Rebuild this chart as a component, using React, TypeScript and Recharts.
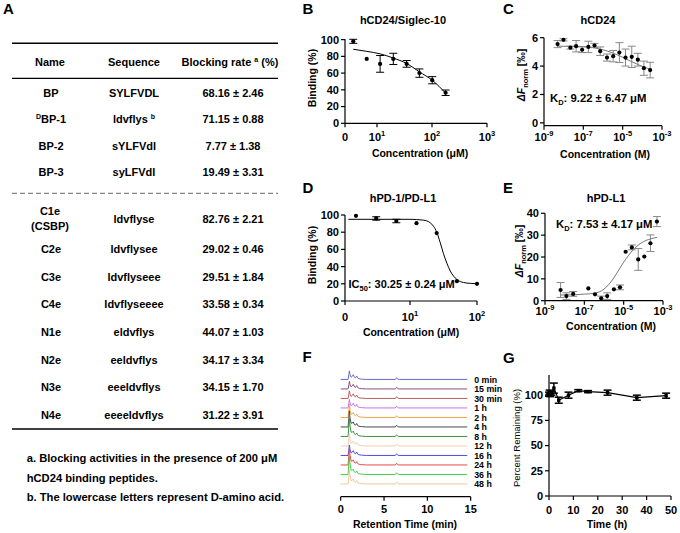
import React from 'react';
import { ComposedChart, LineChart, Line, Scatter, XAxis, YAxis, ErrorBar } from 'recharts';

const FONT = '"Liberation Sans", Arial, Helvetica, sans-serif';

// ---------------- Panel A (table) ----------------
const peptideNames = ['BP', 'BP-1', 'BP-2', 'BP-3', 'C1e', 'C2e', 'C3e', 'C4e', 'N1e', 'N2e', 'N3e', 'N4e'];
const peptideNamePrefixSup = ['', 'D', '', '', '', '', '', '', '', '', '', ''];
const peptideNameSecondLine = ['', '', '', '', '(CSBP)', '', '', '', '', '', '', ''];
const peptideSequences = ['SYLFVDL', 'ldvflys', 'sYLFVdl', 'syLFVdl', 'ldvflyse', 'ldvflysee', 'ldvflyseee', 'ldvflyseeee', 'eldvflys', 'eeldvflys', 'eeeldvflys', 'eeeeldvflys'];
const peptideSequenceSup = ['', 'b', '', '', '', '', '', '', '', '', '', ''];
const blockingRate = [68.16, 71.15, 7.77, 19.49, 82.76, 29.02, 29.51, 33.58, 44.07, 34.17, 34.15, 31.22];
const blockingSd = [2.46, 0.88, 1.38, 3.31, 2.21, 0.46, 1.84, 0.34, 1.03, 3.34, 1.7, 3.91];
const tableFootnotes = [
  'a. Blocking activities in the presence of 200 \u03bcM',
  'hCD24 binding peptides.',
  'b. The lowercase letters represent D-amino acid.',
];

// ---------------- Panel B ----------------
const bConcentration = [3.7, 6.5, 11.4, 19.8, 34.6, 59, 101, 177];
const bBinding = [98, 77, 71, 77, 71, 60, 51.5, 36.5];
const bBindingErr = [2.4, 0, 10, 6.7, 4, 5, 4.3, 3.3];
const bFitConcentration = [3.7, 6.5, 11.4, 19.8, 34.6, 59, 101, 177];
const bFitBinding = [88.5, 86, 83, 78, 71.5, 61.5, 51.5, 36];

// ---------------- Panel C ----------------
const cConcentration = [4.9e-9, 9.8e-9, 2.2e-8, 4.3e-8, 8.7e-8, 1.8e-7, 3.7e-7, 7.2e-7, 1.6e-6, 3.3e-6, 6.8e-6, 1.4e-5, 2.9e-5, 5.9e-5, 1.2e-4, 2.5e-4];
const cSignal = [5.55, 5.85, 5.3, 5.4, 5.15, 5.35, 5.45, 5.05, 4.6, 4.7, 4.95, 4.6, 4.65, 4.45, 3.85, 3.72];
const cSignalErr = [0.25, 0.08, 0.1, 0.4, 0.2, 0.4, 0.15, 0.3, 0.25, 0.4, 0.7, 0.6, 0.75, 0.45, 0.5, 0.55];
const cFitConcentration = [4.9e-9, 1e-7, 3.2e-7, 1e-6, 3.2e-6, 1e-5, 3.2e-5, 1e-4, 2.5e-4];
const cFitSignal = [5.4, 5.38, 5.3, 5.15, 4.92, 4.62, 4.28, 3.98, 3.78];

// ---------------- Panel D ----------------
const dConcentration = [1.56, 3.13, 6.25, 12.5, 25, 50, 100];
const dBinding = [99, 96, 93, 90.5, 79, 23, 20];
const dBindingErr = [0, 2, 2, 0, 0, 0, 0];
const dFitConcentration = [1.2, 10, 15.8, 20, 22.4, 25.1, 28.2, 31.6, 35.5, 39.8, 44.7, 50.1, 63.1, 79.4, 100];
const dFitBinding = [95, 95, 94, 91, 87, 80, 68, 55, 44, 35, 29, 25, 21.5, 20.5, 20];

// ---------------- Panel E ----------------
const eConcentration = [6.2e-9, 1.23e-8, 2.7e-8, 1.6e-7, 3.5e-7, 7.2e-7, 1.45e-6, 3.2e-6, 6.5e-6, 1.26e-5, 2.6e-5, 5.5e-5, 1.12e-4, 2.3e-4, 4.9e-4];
const eSignal = [4.9, 2.1, 3.1, 5.6, 2.9, 1.1, 2.1, 5.2, 6.1, 22.4, 24.4, 18.9, 20.2, 26.3, 36.2];
const eSignalErr = [3.4, 1.5, 1.1, 0, 0, 1, 1.5, 0, 1.1, 0, 1.1, 5, 0, 3.8, 2.3];
const eFitConcentration = [6.3e-9, 3.2e-8, 1e-7, 3.2e-7, 1e-6, 3.2e-6, 6.3e-6, 1e-5, 3.2e-5, 1e-4, 3.2e-4, 5e-4];
const eFitSignal = [2.6, 2.7, 3.0, 3.4, 5.3, 10.5, 14.8, 17.6, 23.5, 27, 28.6, 29];

// ---------------- Panel F ----------------
const rtTime = [0, 0.85, 0.95, 1.0, 1.08, 1.2, 1.35, 1.45, 1.55, 1.7, 1.85, 1.95, 2.1, 2.4, 3.0, 6.3, 6.45, 6.55, 6.7, 14.6];
const rtMainPeak = [0, 0, 0.6, 1, 0.55, 0.2, 0.1, 0.05, 0.03, 0.02, 0.01, 0, 0, 0, 0, 0, 0, 0, 0, 0];
const rtMinorPeaks = [0, 0, 0, 0, 0, 0.5, 2.5, 4.5, 2.5, 1.5, 3.5, 1.5, 0.8, 0.3, 0, 0, 1.8, 0.6, 0, 0];
const traceLabels = ['0 min', '15 min', '30 min', '1 h', '2 h', '4 h', '8 h', '12 h', '16 h', '24 h', '36 h', '48 h'];
const traceMainHeight = [9, 8, 8, 9, 14, 17, 20, 13, 11, 18, 20, 15];
const traceColors = ['#6868d0', '#8c4f80', '#bc5a5a', '#cc70ee', '#f2a448', '#4a4a4a', '#3f933f', '#f0cfb0', '#4c4ce6', '#ee4848', '#46cc46', '#f0c79e'];
const traceStackStep = 10;

// ---------------- Panel G ----------------
const gTime = [0, 0.25, 0.5, 1, 2, 4, 8, 12, 16, 24, 36, 48];
const gRemaining = [101, 103, 100, 102, 107, 95, 100, 104.5, 103.5, 102.5, 97.5, 99.5];
const gRemainingErr = [2, 2, 1.5, 2, 5, 3, 3, 1, 1, 2.5, 2.5, 2.5];

// ---------------- derived tables ----------------
const toPts = (xs: number[], ys: number[], es?: number[]) =>
  xs.map((x, i) => ({ x, y: ys[i], err: es ? es[i] : 0 }));

const bPoints = toPts(bConcentration, bBinding, bBindingErr);
const bFit = toPts(bFitConcentration, bFitBinding);
const cPoints = toPts(cConcentration, cSignal, cSignalErr);
const cFit = toPts(cFitConcentration, cFitSignal);
const dPoints = toPts(dConcentration, dBinding, dBindingErr);
const dFit = toPts(dFitConcentration, dFitBinding);
const ePoints = toPts(eConcentration, eSignal, eSignalErr);
const eFit = toPts(eFitConcentration, eFitSignal);
const gPoints = toPts(gTime, gRemaining, gRemainingErr);

const chromData = rtTime.map((t, k) => {
  const row: any = { t };
  traceLabels.forEach((_, i) => {
    row['s' + i] = (traceLabels.length - 1 - i) * traceStackStep + traceMainHeight[i] * rtMainPeak[k] + rtMinorPeaks[k];
  });
  return row;
});

// ---------------- helpers ----------------
const tickFont = { fontSize: 11, fontWeight: 'bold', fill: '#000', fontFamily: FONT } as any;

function LogTick(props: any) {
  const { x, y, payload, zeroTick, centerOffset } = props;
  const v = payload.value;
  const base = y - 4 + centerOffset + 4;
  if (zeroTick !== undefined && Math.abs(v - zeroTick) < 1e-6) {
    return <text x={x} y={base} textAnchor="middle" style={tickFont}>0</text>;
  }
  const exp = Math.round(Math.log10(v));
  return (
    <text x={x} y={base} textAnchor="middle" style={tickFont}>
      10<tspan dy={-5} fontSize={7.5}>{String(exp)}</tspan>
    </text>
  );
}

function NumTick(props: any) {
  const { x, y, payload, centerOffset } = props;
  return <text x={x} y={y - 4 + centerOffset + 4} textAnchor="middle" style={tickFont}>{payload.value}</text>;
}

const dotShape = (p: any) => <circle cx={p.cx} cy={p.cy} r={2.1} fill="#000" />;

function DoseChart(props: any) {
  const { left, top, width, height, margin, yWidth, xHeight, xDomain, xTicks, zeroTick, yDomain, yTicks,
    points, fit, fitColor, errColor, tickOffset } = props;
  return (
    <div style={{ position: 'absolute', left, top }}>
      <ComposedChart width={width} height={height} margin={margin}>
        <XAxis type="number" dataKey="x" scale="log" domain={xDomain} ticks={xTicks}
          interval={0} height={xHeight} tickSize={4} tickMargin={0}
          axisLine={{ stroke: '#000', strokeWidth: 1.2 }} tickLine={{ stroke: '#000', strokeWidth: 1.2 }}
          tick={(p: any) => <LogTick {...p} zeroTick={zeroTick} centerOffset={tickOffset} />} />
        <YAxis type="number" dataKey="y" domain={yDomain} ticks={yTicks} interval={0}
          width={yWidth} tickSize={4} tickMargin={2}
          axisLine={{ stroke: '#000', strokeWidth: 1.2 }} tickLine={{ stroke: '#000', strokeWidth: 1.2 }}
          tick={tickFont} />
        <Line data={fit} dataKey="y" type="monotone" stroke={fitColor} strokeWidth={1} dot={false}
          isAnimationActive={false} />
        <Scatter data={points} dataKey="y" fill="#000" shape={dotShape} isAnimationActive={false}>
          <ErrorBar dataKey="err" direction="y" width={4} stroke={errColor} strokeWidth={1} />
        </Scatter>
      </ComposedChart>
    </div>
  );
}

const T = (p: any) => <text fontFamily={FONT} fontWeight="bold" fill="#000" {...p} />;

// layout constants (pixel positions)
const tableRowY = [93, 119.5, 146, 172, 219, 249.5, 277, 304.5, 332.5, 360, 387.5, 415];
const footY = [458.3, 477.7, 497.3];

function Overlay() {
  const fs = 11;
  const b = 0.36 * fs;
  return (
    <svg width={680} height={533} style={{ position: 'absolute', left: 0, top: 0, pointerEvents: 'none' }}>
      {/* panel letters */}
      {[['A', 3, 9], ['B', 302.5, 8.5], ['C', 503, 8.5], ['D', 302.5, 188], ['E', 503, 188], ['F', 302.5, 357], ['G', 503, 357.5]].map(
        ([l, x, y]: any) => <T key={l} x={x} y={y + 5.4} fontSize={15}>{l}</T>)}

      {/* table A */}
      <line x1={12} x2={278} y1={43.3} y2={43.3} stroke="#000" strokeWidth={1.5} />
      <line x1={12} x2={278} y1={78.3} y2={78.3} stroke="#000" strokeWidth={1.3} />
      <line x1={12} x2={278} y1={193.3} y2={193.3} stroke="#666" strokeWidth={1} strokeDasharray="5 3" />
      <line x1={12} x2={278} y1={429} y2={429} stroke="#000" strokeWidth={1.5} />
      <T x={50} y={61.7 + b} textAnchor="middle" fontSize={fs}>Name</T>
      <T x={134} y={61.7 + b} textAnchor="middle" fontSize={fs}>Sequence</T>
      <T x={230} y={61.7 + b} textAnchor="middle" fontSize={fs}>
        Blocking rate <tspan fontSize={7} dy={-4}>a</tspan><tspan dy={4}> (%)</tspan>
      </T>
      {peptideNames.map((name, i) => {
        const y = tableRowY[i];
        const second = peptideNameSecondLine[i];
        const pre = peptideNamePrefixSup[i];
        const sup = peptideSequenceSup[i];
        return (
          <g key={name}>
            {second ? (
              <>
                <T x={50} y={y - 7.5 + b} textAnchor="middle" fontSize={fs}>{name}</T>
                <T x={50} y={y + 7.5 + b} textAnchor="middle" fontSize={fs}>{second}</T>
              </>
            ) : (
              <T x={51} y={y + b} textAnchor="middle" fontSize={fs}>
                {pre ? <tspan fontSize={7} dy={-4}>{pre}</tspan> : null}
                <tspan dy={pre ? 4 : 0}>{name}</tspan>
              </T>
            )}
            <T x={134} y={y + b} textAnchor="middle" fontSize={fs}>
              {peptideSequences[i]}
              {sup ? <tspan fontSize={7} dx={3} dy={-4}>{sup}</tspan> : null}
            </T>
            <T x={233} y={y + b} textAnchor="middle" fontSize={fs}>
              {blockingRate[i].toFixed(2) + ' \u00b1 ' + blockingSd[i].toFixed(2)}
            </T>
          </g>
        );
      })}
      {tableFootnotes.map((t, i) => (
        <T key={t} x={26.7} y={footY[i] + b} fontSize={11.2}>{t}</T>
      ))}

      {/* titles */}
      <T x={403} y={20 + b} textAnchor="middle" fontSize={fs}>hCD24/Siglec-10</T>
      <T x={598} y={20 + b} textAnchor="middle" fontSize={fs}>hCD24</T>
      <T x={403} y={198.3 + b} textAnchor="middle" fontSize={fs}>hPD-1/PD-L1</T>
      <T x={606} y={198.3 + b} textAnchor="middle" fontSize={fs}>hPD-L1</T>

      {/* x axis titles */}
      <T x={420} y={153.3 + 3.8} textAnchor="middle" fontSize={10.5}>Concentration (μM)</T>
      <T x={605} y={154.3 + 3.8} textAnchor="middle" fontSize={10.5}>Concentration (M)</T>
      <T x={411} y={331.7 + 3.8} textAnchor="middle" fontSize={10.5}>Concentration (μM)</T>
      <T x={611} y={326 + 3.8} textAnchor="middle" fontSize={10.5}>Concentration (M)</T>
      <T x={405} y={524 + 3.8} textAnchor="middle" fontSize={10.5}>Retention Time (min)</T>
      <T x={607} y={524.3 + 3.8} textAnchor="middle" fontSize={10.5}>Time (h)</T>

      {/* y axis titles */}
      <T transform="translate(316,78) rotate(-90)" textAnchor="middle" fontSize={10.5}>Binding (%)</T>
      <T transform="translate(316,255) rotate(-90)" textAnchor="middle" fontSize={10.5}>Binding (%)</T>
      <T transform="translate(525,75) rotate(-90)" textAnchor="middle" fontSize={10.5}>
        <tspan fontStyle="italic">ΔF</tspan><tspan fontSize={7.5} dy={3}>norm</tspan><tspan dy={-3}> [‰]</tspan>
      </T>
      <T transform="translate(523,251) rotate(-90)" textAnchor="middle" fontSize={10.5}>
        <tspan fontStyle="italic">ΔF</tspan><tspan fontSize={7.5} dy={3}>norm</tspan><tspan dy={-3}> [‰]</tspan>
      </T>
      <text transform="translate(519.5,438) rotate(-90)" textAnchor="middle" fontSize={9.5} fontFamily={FONT} fill="#000">
        Percent Remaining (%)
      </text>

      {/* annotations */}
      <T x={550} y={98.3 + 4} fontSize={11.3}>
        K<tspan fontSize={7.5} dy={3}>D</tspan><tspan dy={-3}>: 9.22 ± 6.47 μM</tspan>
      </T>
      <T x={556} y={224 + 4} fontSize={11.3}>
        K<tspan fontSize={7.5} dy={3}>D</tspan><tspan dy={-3}>: 7.53 ± 4.17 μM</tspan>
      </T>
      <T x={348.5} y={284 + 4} fontSize={11}>
        IC<tspan fontSize={7.5} dy={3}>50</tspan><tspan dy={-3}>: 30.25 ± 0.24 μM</tspan>
      </T>
    </svg>
  );
}

export default function App() {
  const lastIdx = rtTime.length - 1;
  return (
    <div style={{ position: 'absolute', left: 0, top: 0, width: 680, height: 533, background: '#fff', overflow: 'hidden', fontFamily: FONT }}>
      {/* B */}
      <DoseChart left={300} top={0} width={205} height={165} margin={{ top: 39.3, right: 18, bottom: 0, left: 0 }}
        yWidth={45} xHeight={41.7} xDomain={[2.62, 1000]} xTicks={[2.62, 10, 100, 1000]} zeroTick={2.62}
        yDomain={[0, 100]} yTicks={[0, 20, 40, 60, 80, 100]} points={bPoints} fit={bFit}
        fitColor="#000" errColor="#000" tickOffset={13.4} />
      {/* C */}
      <DoseChart left={490} top={0} width={190} height={165} margin={{ top: 37.7, right: 18, bottom: 0, left: 0 }}
        yWidth={54} xHeight={39.3} xDomain={[1e-9, 1e-3]} xTicks={[1e-9, 1e-7, 1e-5, 1e-3]}
        yDomain={[-0.2, 6]} yTicks={[0, 2, 4, 6]} points={cPoints} fit={cFit}
        fitColor="#777" errColor="#888" tickOffset={11} />
      {/* D */}
      <DoseChart left={300} top={175} width={200} height={165} margin={{ top: 40, right: 23, bottom: 0, left: 0 }}
        yWidth={45} xHeight={39} xDomain={[1.07, 100]} xTicks={[1.07, 10, 100]} zeroTick={1.07}
        yDomain={[0, 100]} yTicks={[0, 20, 40, 60, 80, 100]} points={dPoints} fit={dFit}
        fitColor="#000" errColor="#000" tickOffset={15.7} />
      {/* E */}
      <DoseChart left={490} top={175} width={190} height={165} margin={{ top: 38.3, right: 17, bottom: 0, left: 0 }}
        yWidth={55} xHeight={39.3} xDomain={[1e-9, 1e-3]} xTicks={[1e-9, 1e-7, 1e-5, 1e-3]}
        yDomain={[0, 40]} yTicks={[0, 10, 20, 30, 40]} points={ePoints} fit={eFit}
        fitColor="#777" errColor="#888" tickOffset={10.5} />

      {/* F */}
      <div style={{ position: 'absolute', left: 300, top: 350 }}>
        <LineChart width={215} height={183} data={chromData} margin={{ top: 15, right: 44.3, bottom: 0, left: 40.7 }}>
          <XAxis type="number" dataKey="t" domain={[0, 15]} ticks={[0, 5, 10, 15]} interval={0} height={36.3}
            tickSize={4} tickMargin={0} axisLine={{ stroke: '#000', strokeWidth: 1.2 }}
            tickLine={{ stroke: '#000', strokeWidth: 1.2 }}
            tick={(p: any) => <NumTick {...p} centerOffset={12.3} />} />
          <YAxis hide type="number" domain={[-13.4, 125.2]} />
          {traceLabels.map((lab, i) => (
            <Line key={lab} dataKey={'s' + i} type="linear" stroke={traceColors[i]} strokeWidth={1}
              dot={false} isAnimationActive={false}
              label={(p: any) => {
                const px = p.x ?? p.viewBox?.x;
                const py = p.y ?? p.viewBox?.y;
                if (p.index !== lastIdx || px == null) return <g key={'l' + i + '-' + p.index} />;
                return (
                  <text key={'l' + i} x={px + 7} y={py + 3.2} fontSize={8.8} fontWeight="bold"
                    fontFamily={FONT} fill="#000">{lab}</text>
                );
              }} />
          ))}
        </LineChart>
      </div>

      {/* G */}
      <div style={{ position: 'absolute', left: 500, top: 350 }}>
        <ComposedChart width={178} height={183} margin={{ top: 25, right: 7, bottom: 0, left: 0 }}>
          <XAxis type="number" dataKey="x" domain={[0, 50]} ticks={[0, 10, 20, 30, 40, 50]} interval={0}
            height={37} tickSize={4} tickMargin={0} axisLine={{ stroke: '#000', strokeWidth: 1.2 }}
            tickLine={{ stroke: '#000', strokeWidth: 1.2 }}
            tick={(p: any) => <NumTick {...p} centerOffset={14} />} />
          <YAxis type="number" dataKey="y" domain={[0, 120]} ticks={[0, 25, 50, 75, 100]} interval={0}
            width={49} tickSize={4} tickMargin={2}
            axisLine={{ stroke: '#000', strokeWidth: 1.2 }} tickLine={{ stroke: '#000', strokeWidth: 1.2 }}
            tick={tickFont} />
          <Line data={gPoints} dataKey="y" type="linear" stroke="#000" strokeWidth={1.2} isAnimationActive={false}
            dot={(p: any) => <rect key={'d' + p.index} x={p.cx - 1.7} y={p.cy - 1.7} width={3.4} height={3.4} fill="#000" />}>
            <ErrorBar dataKey="err" direction="y" width={4} stroke="#000" strokeWidth={1.5} />
          </Line>
        </ComposedChart>
      </div>

      <Overlay />
    </div>
  );
}
